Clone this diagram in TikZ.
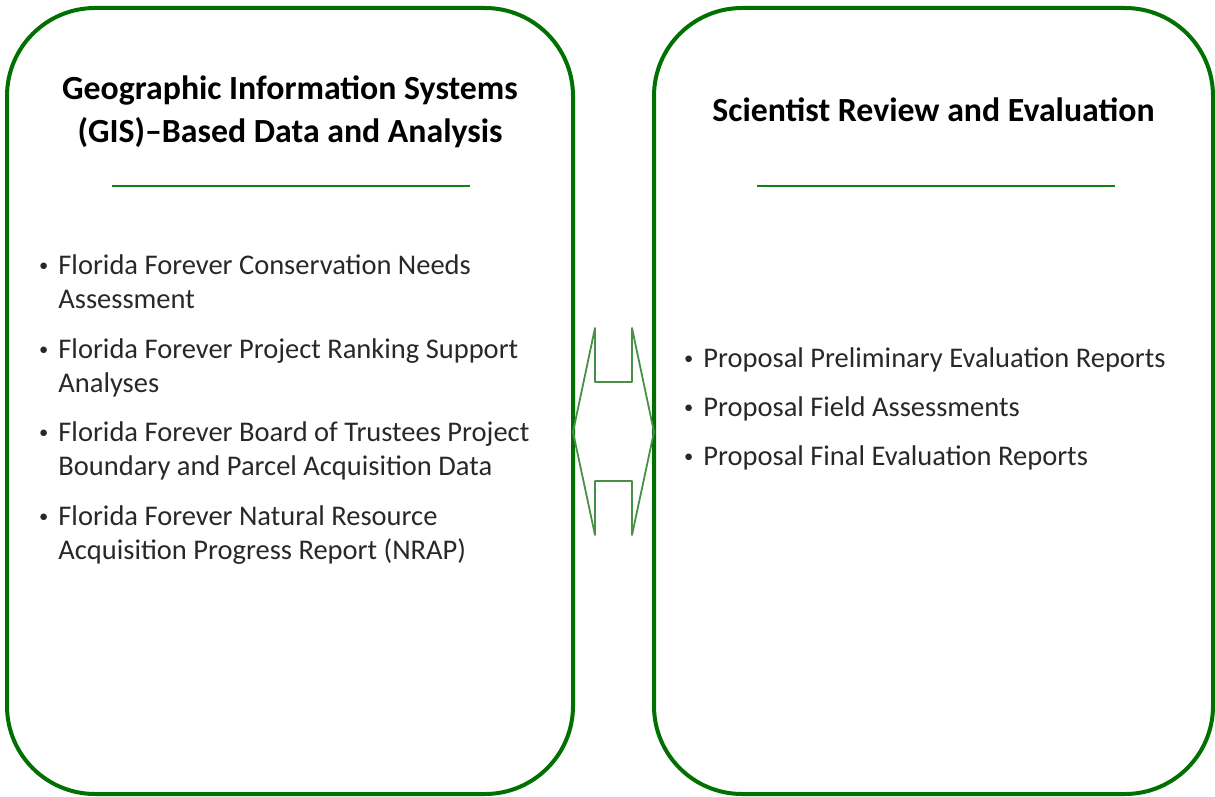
\documentclass[tikz,border=0pt]{standalone}
\usepackage{fontspec}
\usepackage{graphicx}
\setmainfont{Carlito}
\usetikzlibrary{
    calc,
    positioning}
\definecolor{boxgreen}{RGB}{0,112,0}
\definecolor{rulegreen}{RGB}{20,128,20}
\definecolor{arrowgreen}{RGB}{70,145,70}
\definecolor{txtgray}{RGB}{40,40,40}
\newcommand{\bul}{\makebox[0pt][r]{\raisebox{0.1em}{\scalebox{0.65}{\textbullet}}\hspace{5pt}}}
\tikzset{panel/.style={
            draw=boxgreen, line width=2pt, rounded corners=44pt,
            minimum height=393pt, inner sep=0pt, outer sep=0pt
        }}
\tikzset{ttl/.style={font=\bfseries\fontsize{16.9}{21}\selectfont, align=center, inner sep=0pt, anchor=base}}
\tikzset{itm/.style={text=txtgray, font=\fontsize{14.25}{17.2}\selectfont, align=left, inner sep=0pt, anchor=base west}}
\tikzset{sep/.style={draw=rulegreen, line width=0.9pt}}
\tikzset{link/.style={draw=arrowgreen, line width=0.9pt, line join=round}}

\begin{document}
\begin{tikzpicture}[x=0.5pt, y=-0.5pt]
    \useasboundingbox (0,0) rectangle (1215,797);

    % boxes
    \node(gis)[panel, minimum width=283pt] at (290,401) {};
    \node(sci)[panel, minimum width=279.5pt] at (933.5,401) {};

    % left title (base = last line)
    \node(gisT)[ttl] at (290,142) {Geographic Information Systems\\(GIS)--Based Data and Analysis};
    \draw[sep] (112,186) -- (470,186);

    % left items (base = last line)
    \node(needs)[itm] at (58,308.4) {\bul Florida Forever Conservation Needs\\Assessment};
    \node(rank)[itm] at (58,392.4) {\bul Florida Forever Project Ranking Support\\Analyses};
    \node(bot)[itm] at (58,475.9) {\bul Florida Forever Board of Trustees Project\\Boundary and Parcel Acquisition Data};
    \node(nrap)[itm] at (58,559.4) {\bul Florida Forever Natural Resource\\Acquisition Progress Report (NRAP)};

    % right title
    \node(sciT)[ttl] at (933.5,121) {Scientist Review and Evaluation};
    \draw[sep] (757,186) -- (1115,186);

    % right items
    \node(prelim)[itm] at (703,367) {\bul Proposal Preliminary Evaluation Reports};
    \node(field)[itm] at (703,416) {\bul Proposal Field Assessments};
    \node(final)[itm] at (703,465) {\bul Proposal Final Evaluation Reports};

    % double arrow between boxes
    \coordinate(lt) at ([yshift=-15.5pt]gis.east);
    \coordinate(rt) at ([yshift=-15.5pt]sci.west);
    \draw[link] (lt) -- ++(22,-104) -- ++(0,54) -- ++(37,0) -- ++(0,-54) -- (rt)
        -- ++(-22,103) -- ++(0,-54) -- ++(-37,0) -- ++(0,54) -- cycle;

\end{tikzpicture}
\end{document}
